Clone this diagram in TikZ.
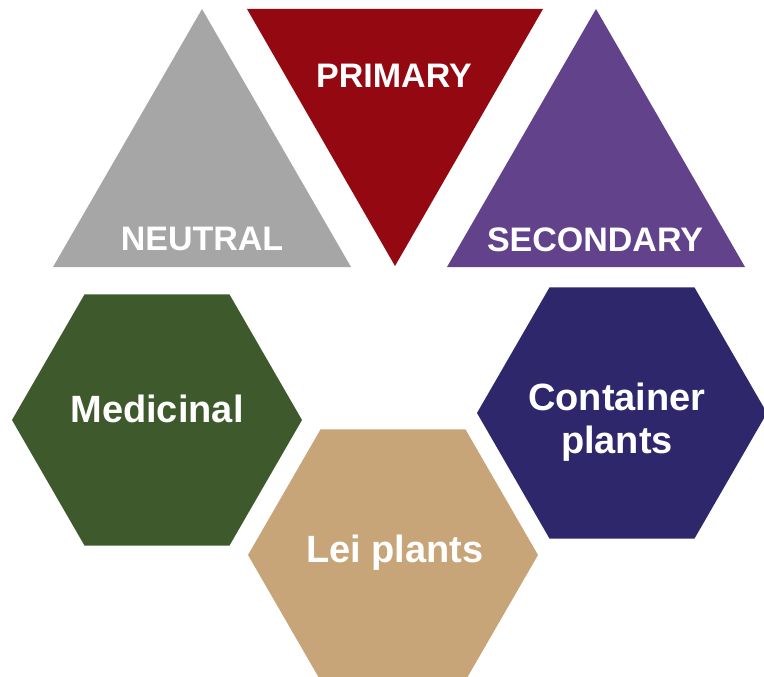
\documentclass[tikz,border=0pt]{standalone}
\usepackage{fontspec}
\setmainfont{Liberation Sans}
\usepackage{xcolor}
\definecolor{neutralgray}{HTML}{A6A6A6}
\definecolor{primaryred}{HTML}{930811}
\definecolor{secondarypurple}{HTML}{62428B}
\definecolor{medgreen}{HTML}{3E5A2D}
\definecolor{containerblue}{HTML}{2E276B}
\definecolor{leitan}{HTML}{C8A579}

\begin{document}
\begin{tikzpicture}[x=1pt, y=-1pt,
    toplabel/.style={text=white, font=\bfseries\fontsize{34}{40}\selectfont},
    hexlabel/.style={text=white, font=\bfseries\fontsize{38}{43}\selectfont, align=center}]

    \useasboundingbox (0,0) rectangle (764,677); % keep the page at the size of the picture

    % Draw the three colour triangles (grey and purple point up, red points down)
    \fill[neutralgray] (202,9) -- (351,267) -- (53,267) -- cycle;
    \fill[primaryred] (247,9) -- (543,9) -- (395,266) -- cycle;
    \fill[secondarypurple] (596,9) -- (745,267) -- (447,267) -- cycle;

    % Draw the hexagons (side 145) round their centres
    \foreach \cx/\cy/\colour in {157/420/medgreen, 622/413/containerblue, 393/555/leitan} {
        \fill[\colour] (\cx+145,\cy) \foreach \angle in {60,120,...,300} { -- ([shift={(\cx,\cy)}]\angle:145) } -- cycle;
    }

    % Words on the triangles
    \foreach \x/\y/\word in {202/250/NEUTRAL, 394/88/PRIMARY, 595/251/SECONDARY} {
        \node[toplabel, anchor=base] (\word) at (\x,\y) {\word};
    }

    % Words on the hexagons
    \node[hexlabel, anchor=base] (medicinal) at (157,422) {Medicinal};
    \node[hexlabel] (container) at (617,422) {Container\\plants};
    \node[hexlabel, anchor=base] (lei) at (395,562) {Lei plants};
\end{tikzpicture}
\end{document}
